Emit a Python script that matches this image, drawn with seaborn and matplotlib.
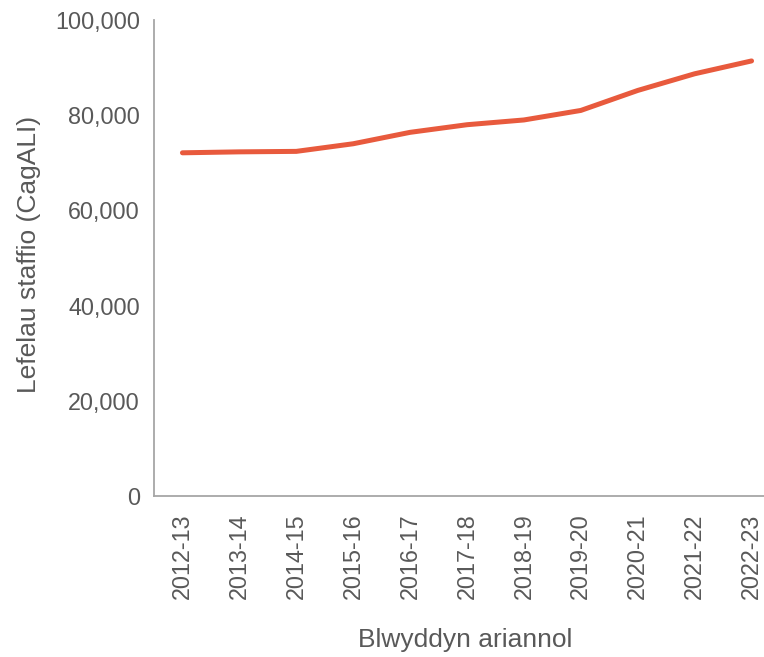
#!/usr/bin/env python3

"""
Staffing levels (FTE) by financial year.
"""

import pandas as pd
import seaborn as sns
import matplotlib.pyplot as plt
from matplotlib.ticker import FuncFormatter

years = [
    "2012-13", "2013-14", "2014-15", "2015-16", "2016-17", "2017-18",
    "2018-19", "2019-20", "2020-21", "2021-22", "2022-23",
]
staff = [72100, 72300, 72400, 74000, 76400, 78000, 79000, 81000, 85200, 88700, 91400]

LINE_COLOR = "#E85A3D"
TEXT_COLOR = "#595959"


def main():
    sns.set_style("white")
    plt.rcParams["font.family"] = ["Liberation Sans", "DejaVu Sans"]

    df = pd.DataFrame({"year": years, "staff": staff})

    fig = plt.figure(figsize=(7.64, 6.57), dpi=100)
    ax = fig.add_axes([154 / 764, 161 / 657, 626 / 764, 476 / 657])

    sns.lineplot(data=df, x="year", y="staff", color=LINE_COLOR, linewidth=3.6,
                 sort=False, ax=ax)

    ax.set_xlim(-0.5, len(years) - 0.5)
    ax.set_ylim(0, 100000)
    ax.set_yticks(range(0, 100001, 20000))
    ax.yaxis.set_major_formatter(FuncFormatter(lambda v, _: f"{int(v):,}"))

    ax.tick_params(axis="x", labelrotation=90, labelsize=16.8, colors=TEXT_COLOR,
                   length=0, pad=12.5)
    ax.tick_params(axis="y", labelsize=16.8, colors=TEXT_COLOR, length=0, pad=10)

    ax.set_xlabel("Blwyddyn ariannol", fontsize=19, color=TEXT_COLOR)
    ax.set_ylabel("Lefelau staffio (CagALI)", fontsize=19, color=TEXT_COLOR)
    ax.xaxis.set_label_coords(0.497, -0.277)
    ax.yaxis.set_label_coords(-0.18, 0.508)

    sns.despine(ax=ax)
    for side in ("left", "bottom"):
        ax.spines[side].set_color("#A6A6A6")
        ax.spines[side].set_linewidth(1.3)

    fig.savefig("out.png", dpi=100)


if __name__ == "__main__":
    main()
